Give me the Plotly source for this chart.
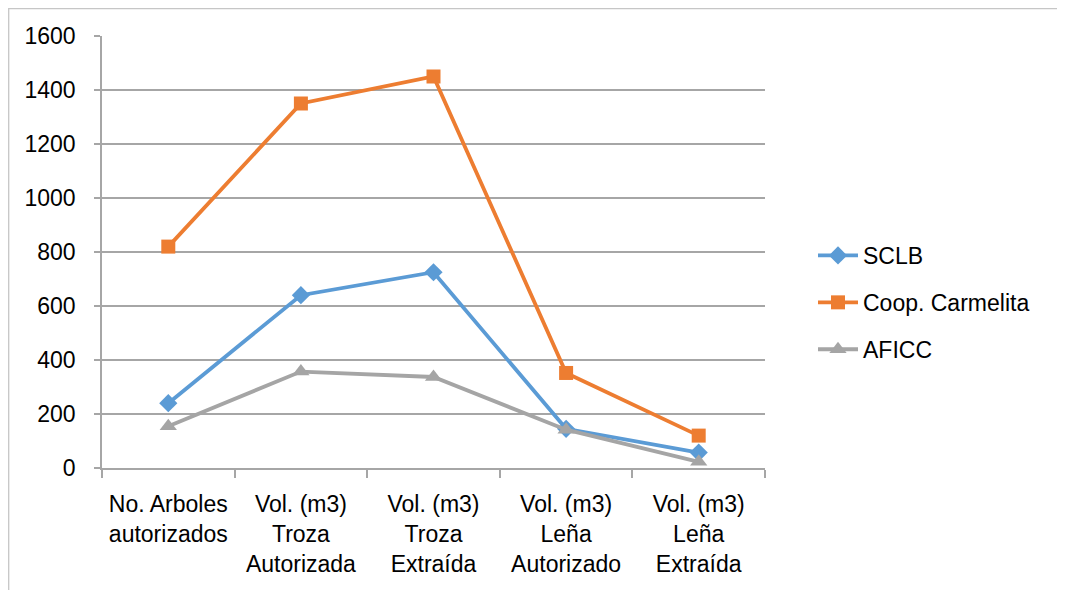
import plotly.graph_objects as go

categories = [
    "No. Arboles<br>autorizados",
    "Vol. (m3)<br>Troza<br>Autorizada",
    "Vol. (m3)<br>Troza<br>Extraída",
    "Vol. (m3)<br>Leña<br>Autorizado",
    "Vol. (m3)<br>Leña<br>Extraída",
]
sclb = [240, 640, 725, 145, 57]
coop = [820, 1350, 1450, 352, 120]
aficc = [155, 357, 337, 142, 23]
y_ticks = [0, 200, 400, 600, 800, 1000, 1200, 1400, 1600]

# page has an 8px body margin, so the figure is laid out 8px in
W, H = 1057, 582
L, R, T, B = 94, 757, 28, 460

FONT = "Liberation Sans"
fig = go.Figure()
series = [
    ("SCLB", sclb, "#5B9BD5", "diamond", 14),
    ("Coop. Carmelita", coop, "#ED7D31", "square", 14),
    ("AFICC", aficc, "#A5A5A5", "triangle-up", 15),
]
for i, (name, vals, col, sym, sz) in enumerate(series):
    fig.add_trace(go.Scatter(
        x=categories, y=vals, name=name, mode="lines+markers",
        line=dict(color=col, width=3.8),
        marker=dict(symbol=sym, size=sz, color=col),
        legendgroup=f"g{i}",
    ))

def px_x(px):
    return (px - L) / (R - L)

def px_y(py):
    return (B - py) / (B - T)

fig.add_shape(type="rect", xref="paper", yref="paper",
              x0=px_x(0.7), x1=px_x(1051), y0=px_y(620), y1=px_y(0.7),
              line=dict(color="#c6c6c6", width=1.3), fillcolor="rgba(0,0,0,0)",
              layer="below")

fig.update_layout(
    width=W, height=H,
    margin=dict(l=L, r=W - R, t=T, b=H - B, pad=0),
    paper_bgcolor="white", plot_bgcolor="white",
    font=dict(family=FONT, size=23, color="#000000"),
    showlegend=True,
    legend=dict(x=px_x(805), y=px_y(226), xanchor="left", yanchor="top",
                font=dict(size=23, family=FONT), tracegroupgap=14,
                bgcolor="rgba(0,0,0,0)", itemwidth=40),
    xaxis=dict(
        type="category", range=[-0.5, 4.5],
        showgrid=False, showline=True, linecolor="#a6a6a6", linewidth=1.5,
        ticks="outside", tickson="boundaries", ticklen=8, tickcolor="#a6a6a6",
        tickwidth=1.5, tickfont=dict(size=23, family=FONT),
        ticklabelstandoff=15, automargin=False,
    ),
    yaxis=dict(
        range=[0, 1600], tickvals=y_ticks, ticktext=[str(v) for v in y_ticks],
        showgrid=True, gridcolor="#a6a6a6", gridwidth=1.5,
        showline=True, linecolor="#a6a6a6", linewidth=1.5,
        ticks="outside", ticklen=6, tickcolor="#a6a6a6", tickwidth=1.5,
        tickfont=dict(size=23, family=FONT), ticklabelstandoff=14,
        zeroline=False, automargin=False,
    ),
)

fig.write_html("out.html")
